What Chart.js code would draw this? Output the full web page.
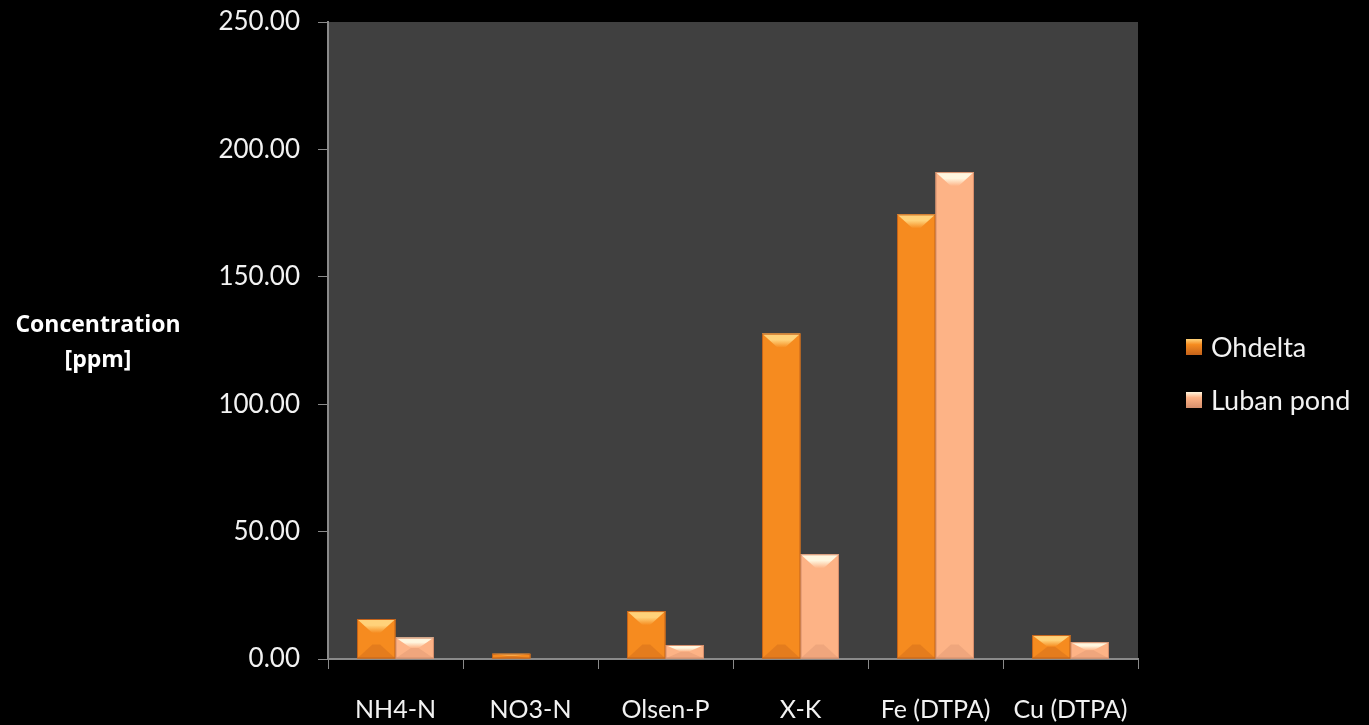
<!DOCTYPE html>
<html>
<head>
<meta charset="utf-8">
<script src="https://cdn.jsdelivr.net/npm/chart.js@4.4.1/dist/chart.umd.min.js"></script>
<style>
  html, body { margin: 0; padding: 0; background: #000; }
  #wrap { width: 1369px; height: 725px; }
</style>
</head>
<body>
<div id="wrap"><canvas id="c" width="1369" height="725"></canvas></div>
<script>
// Nutrient concentrations (ppm) for two sites
const categories = ['NH4-N', 'NO3-N', 'Olsen-P', 'X-K', 'Fe (DTPA)', 'Cu (DTPA)'];
const ohdelta = [15.7, 2.1, 18.8, 127.7, 174.5, 9.4];
const lubanPond = [8.4, 0, 5.5, 41.1, 191.1, 6.6];
const seriesNames = ['Ohdelta', 'Luban pond'];
const yTitleLines = ['Concentration', '[ppm]'];

const FONT = 'Lato, "Open Sans", sans-serif';
const TITLE_FONT = '"Open Sans", Lato, sans-serif';

const palettes = [
  { base: '#F68B1F', edge: '#C4621A', top: '#FFD27A', bottom: '#D87720' },
  { base: '#FDB386', edge: '#D58E6C', top: '#FFF6DF', bottom: '#E9A07A' }
];

// horizontal gradient giving each bar a rounded, bevelled look
function barFill(ctx, i) {
  const el = ctx.element;
  const chart = ctx.chart;
  const p = palettes[i];
  if (!el || !chart.chartArea || ctx.type !== 'data') return p.base;
  const props = el.getProps(['x', 'width'], true);
  const x0 = props.x - props.width / 2, x1 = props.x + props.width / 2;
  if (!isFinite(x0) || !isFinite(x1) || x1 <= x0) return p.base;
  const g = chart.ctx.createLinearGradient(x0, 0, x1, 0);
  g.addColorStop(0, p.edge);
  g.addColorStop(0.12, p.base);
  g.addColorStop(0.85, p.base);
  g.addColorStop(1, p.edge);
  return g;
}

const plotBg = {
  id: 'plotBg',
  beforeDraw(chart) {
    const { ctx, chartArea: a } = chart;
    ctx.save();
    ctx.fillStyle = '#404040';
    ctx.fillRect(a.left, a.top, a.right - a.left, a.bottom - a.top);
    ctx.restore();
  }
};

// top and bottom bevel facets on each bar
const bevel = {
  id: 'bevel',
  afterDatasetsDraw(chart) {
    const ctx = chart.ctx;
    chart.data.datasets.forEach((ds, di) => {
      const meta = chart.getDatasetMeta(di);
      const p = palettes[di];
      meta.data.forEach(bar => {
        const { x, y, base, width } = bar.getProps(['x', 'y', 'base', 'width'], true);
        const h = base - y;
        if (h < 1) return;
        const l = x - width / 2, r = x + width / 2;
        const d = Math.min(14, h / 2);
        const inset = Math.min(width * 0.4, width / 2 - 2);
        ctx.save();
        // top facet
        const gt = ctx.createLinearGradient(0, y, 0, y + d);
        gt.addColorStop(0, p.top);
        gt.addColorStop(0.45, p.top);
        gt.addColorStop(1, p.base);
        ctx.fillStyle = gt;
        ctx.beginPath();
        ctx.moveTo(l, y);
        ctx.lineTo(r, y);
        ctx.lineTo(r - inset, y + d);
        ctx.lineTo(l + inset, y + d);
        ctx.closePath();
        ctx.fill();
        // bottom facet
        ctx.globalAlpha = 0.35;
        ctx.fillStyle = p.edge;
        ctx.beginPath();
        ctx.moveTo(l, base);
        ctx.lineTo(r, base);
        ctx.lineTo(r - inset, base - d);
        ctx.lineTo(l + inset, base - d);
        ctx.closePath();
        ctx.fill();
        ctx.globalAlpha = 1;
        ctx.strokeStyle = p.edge;
        ctx.lineWidth = 1;
        ctx.strokeRect(l + 0.5, y + 0.5, width - 1, h - 1);
        ctx.restore();
      });
    });
  }
};

// horizontal axis title on the left, and legend on the right
const sideText = {
  id: 'sideText',
  afterDraw(chart) {
    const { ctx } = chart;
    ctx.save();
    ctx.fillStyle = '#FFFFFF';
    ctx.font = 'bold 23px ' + TITLE_FONT;
    ctx.textAlign = 'center';
    ctx.textBaseline = 'middle';
    yTitleLines.forEach((t, i) => ctx.fillText(t, 98, 325 + i * 35));

    ctx.font = '27px ' + FONT;
    ctx.textAlign = 'left';
    chart.data.datasets.forEach((ds, i) => {
      const p = palettes[i];
      const cy = 347 + i * 53;
      const sx = 1186, s = 16;
      const g = ctx.createLinearGradient(sx, cy - s / 2, sx, cy + s / 2);
      g.addColorStop(0, p.top);
      g.addColorStop(0.35, p.base);
      g.addColorStop(1, p.edge);
      ctx.fillStyle = g;
      ctx.fillRect(sx, cy - s / 2, s, s);
      ctx.fillStyle = '#F2F2F2';
      ctx.fillText(ds.label, 1211, cy + 1);
    });
    ctx.restore();
  }
};

new Chart(document.getElementById('c'), {
  type: 'bar',
  data: {
    labels: categories,
    datasets: [
      { label: seriesNames[0], data: ohdelta, backgroundColor: c => barFill(c, 0) },
      { label: seriesNames[1], data: lubanPond, backgroundColor: c => barFill(c, 1) }
    ]
  },
  options: {
    responsive: false,
    animation: false,
    devicePixelRatio: 1,
    layout: { padding: { top: 22, right: 231, left: 0, bottom: 0 } },
    plugins: { legend: { display: false }, tooltip: { enabled: false } },
    datasets: { bar: { categoryPercentage: 0.57, barPercentage: 1, borderWidth: 0 } },
    scales: {
      x: {
        afterFit(s) { s.height = 66; s.paddingLeft = 0; s.paddingRight = 0; },
        grid: { offset: true, drawOnChartArea: false, drawTicks: true, tickLength: 10, color: '#8A8A8A' },
        border: { color: '#8A8A8A', width: 2 },
        ticks: { color: '#F2F2F2', font: { family: FONT, size: 25 }, padding: 26, maxRotation: 0 }
      },
      y: {
        min: 0, max: 250,
        afterFit(s) { s.width = 328; s.paddingTop = 0; s.paddingBottom = 0; },
        grid: { drawOnChartArea: false, drawTicks: true, tickLength: 10, color: '#8A8A8A' },
        border: { color: '#8A8A8A', width: 2 },
        ticks: {
          stepSize: 50, color: '#F2F2F2', font: { family: FONT, size: 26 }, padding: 18,
          callback: v => v.toFixed(2)
        }
      }
    }
  },
  plugins: [plotBg, bevel, sideText]
});
</script>
</body>
</html>
